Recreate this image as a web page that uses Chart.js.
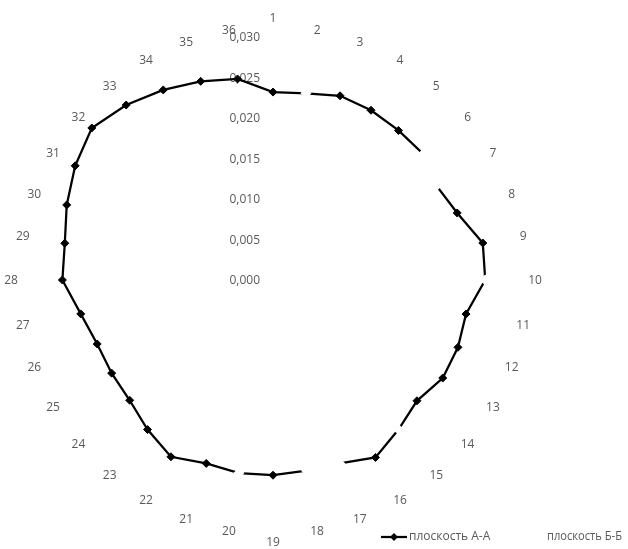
<!DOCTYPE html>
<html>
<head>
<meta charset="utf-8">
<script src="https://cdn.jsdelivr.net/npm/chart.js@4"></script>
<style>
  html, body { margin: 0; padding: 0; background: #fff; }
  #wrap { width: 628px; height: 549px; }
</style>
</head>
<body>
<div id="wrap"><canvas id="myChart" width="628" height="549"></canvas></div>
<script>
// ---- Data ----
const categories = ["1","2","3","4","5","6","7","8","9","10","11","12","13","14","15","16","17","18",
                    "19","20","21","22","23","24","25","26","27","28","29","30","31","32","33","34","35","36"];
const seriesNames = ["плоскость А-А", "плоскость Б-Б"];
const valuesAA = [0.0232, 0.0234, 0.0242, 0.0242, 0.0241, 0.0242, 0.0233, 0.0242, 0.0263, 0.0262,
                  0.0242, 0.0243, 0.0242, 0.0232, 0.0241, 0.0253, 0.0241, 0.0239, 0.0241, 0.0242,
                  0.0241, 0.0252, 0.0241, 0.0231, 0.0230, 0.0231, 0.0241, 0.0260, 0.0261, 0.0271,
                  0.0282, 0.0292, 0.0282, 0.0271, 0.0261, 0.0252];
// second series is drawn in white; only the points where it covers the first one can be read
const valuesBB = [null, 0.0234, null, null, null, 0.0242, 0.0233, null, null, 0.0262,
                  null, null, null, null, 0.0241, null, 0.0241, 0.0239, null, 0.0242,
                  null, null, null, null, null, null, null, null, null, null,
                  null, null, null, null, null, null];
const tickValues = [0, 0.005, 0.010, 0.015, 0.020, 0.025, 0.030];

const textColor = "#595959";
const fontFamily = "'Open Sans', sans-serif";

// ---- Labels plugin (Excel-like tick + category labels, legend) ----
const excelLabels = {
  id: "excelLabels",
  beforeDatasetsDraw(chart) {
    const ctx = chart.ctx;
    const r = chart.scales.r;
    ctx.save();
    ctx.fillStyle = textColor;
    ctx.font = "12px " + fontFamily;
    // value ticks, left of the first axis
    ctx.textAlign = "right";
    ctx.textBaseline = "middle";
    tickValues.forEach(v => {
      const y = r.yCenter - r.getDistanceFromCenterForValue(v);
      ctx.fillText(v.toFixed(3).replace(".", ","), r.xCenter - 13, y + 1);
    });
    // category labels, centered around the circle
    ctx.textAlign = "center";
    chart.data.labels.forEach((lab, i) => {
      const onAxis = i % 9 === 0;
      const p = r.getPointPosition(i, r.drawingArea + (onAxis ? 19 : 11));
      ctx.fillText(lab, p.x, p.y + 1);
    });
    ctx.restore();
  },
  afterDraw(chart) {
    const ctx = chart.ctx;
    ctx.save();
    // legend
    const y = 537;
    ctx.strokeStyle = "#000";
    ctx.lineWidth = 2.25;
    ctx.beginPath();
    ctx.moveTo(381, y);
    ctx.lineTo(407, y);
    ctx.stroke();
    ctx.fillStyle = "#000";
    ctx.beginPath();
    ctx.moveTo(394, y - 4);
    ctx.lineTo(398, y);
    ctx.lineTo(394, y + 4);
    ctx.lineTo(390, y);
    ctx.closePath();
    ctx.fill();
    ctx.fillStyle = textColor;
    ctx.font = "12px " + fontFamily;
    ctx.textAlign = "left";
    ctx.textBaseline = "middle";
    ctx.fillText(seriesNames[0], 409, y, 86);
    ctx.fillText(seriesNames[1], 547, y, 75);
    ctx.restore();
  }
};

// ---- Chart ----
new Chart(document.getElementById("myChart"), {
  type: "radar",
  data: {
    labels: categories,
    datasets: [
      {
        label: seriesNames[0],
        data: valuesAA,
        order: 1,
        borderColor: "#000",
        backgroundColor: "#000",
        borderWidth: 2.25,
        fill: false,
        tension: 0,
        pointStyle: "rectRot",
        pointRadius: 4,
        pointBorderWidth: 1,
        pointBackgroundColor: "#000",
        pointBorderColor: "#000"
      },
      {
        label: seriesNames[1],
        data: valuesBB,
        order: 0,
        borderColor: "#fff",
        backgroundColor: "#fff",
        borderWidth: 4,
        fill: false,
        tension: 0,
        spanGaps: false,
        pointStyle: "rectRot",
        pointRadius: 4.5,
        pointBorderWidth: 1.5,
        pointBackgroundColor: "#fff",
        pointBorderColor: "#fff"
      }
    ]
  },
  options: {
    responsive: false,
    animation: false,
    layout: { padding: { left: 30, top: 37, right: 112, bottom: 26 } },
    plugins: {
      legend: { display: false },
      tooltip: { enabled: false }
    },
    scales: {
      r: {
        min: 0,
        max: 0.03,
        ticks: { display: false, stepSize: 0.005 },
        grid: { display: false },
        angleLines: { display: false },
        pointLabels: { display: false }
      }
    }
  },
  plugins: [excelLabels]
});
</script>
</body>
</html>
